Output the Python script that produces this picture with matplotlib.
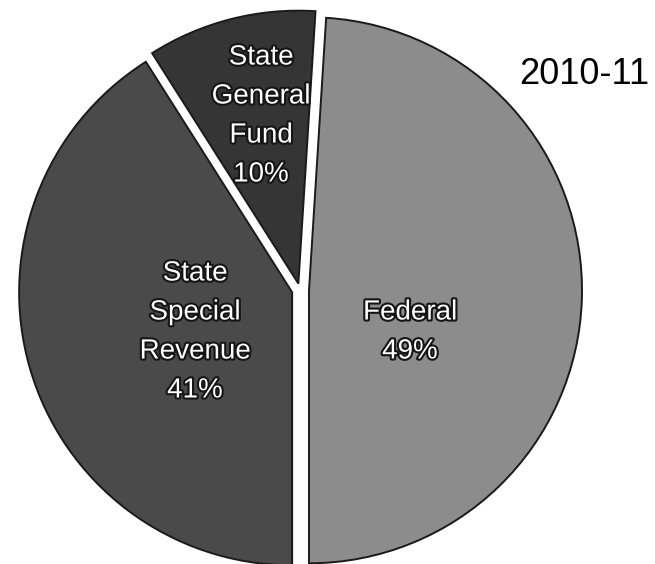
import matplotlib
matplotlib.use("Agg")
import matplotlib.pyplot as plt
import matplotlib.patheffects as pe

# Funding sources, 2010-11 (percent of total)
sources = ["Federal", "State\nSpecial\nRevenue", "State\nGeneral\nFund"]
shares = [49, 41, 10]
slice_colors = ["#8c8c8c", "#4a4a4a", "#353535"]
offsets = [0.033, 0.030, 0.024]
title_text = "2010-11"

W, H = 655, 564
fig = plt.figure(figsize=(W / 100, H / 100), dpi=100)
ax = fig.add_axes([0, 0, 1, 1])

# pie centre and radius in pixels
cx, cy, R = 300, 290, 273


def px(x, y):
    """pixel position (from top-left) -> data coordinates"""
    return (x - cx) / R, (cy - y) / R


wedges, _ = ax.pie(
    shares,
    colors=slice_colors,
    startangle=86.4,
    counterclock=False,
    explode=offsets,
    radius=1.0,
    wedgeprops=dict(edgecolor="#1a1a1a", linewidth=1.4),
)

x0, y1 = px(0, 0)
x1, y0 = px(W, H)
ax.set_xlim(x0, x1)
ax.set_ylim(y0, y1)
ax.set_aspect("auto")
ax.axis("off")

font = "Liberation Sans"
halo = [pe.withStroke(linewidth=3, foreground="#151515")]

label_pos = [(410, 332), (195, 332), (261, 116)]
for name, val, (lx, ly) in zip(sources, shares, label_pos):
    tx, ty = px(lx, ly)
    ax.text(tx, ty, f"{name}\n{val}%", ha="center", va="center",
            color="white", fontsize=20, family=font, linespacing=1.65,
            path_effects=halo)

tx, ty = px(584, 74)
ax.text(tx, ty, title_text, ha="center", va="center", color="black",
        fontsize=26, family=font)

fig.savefig("out.png", dpi=100, facecolor="white")
